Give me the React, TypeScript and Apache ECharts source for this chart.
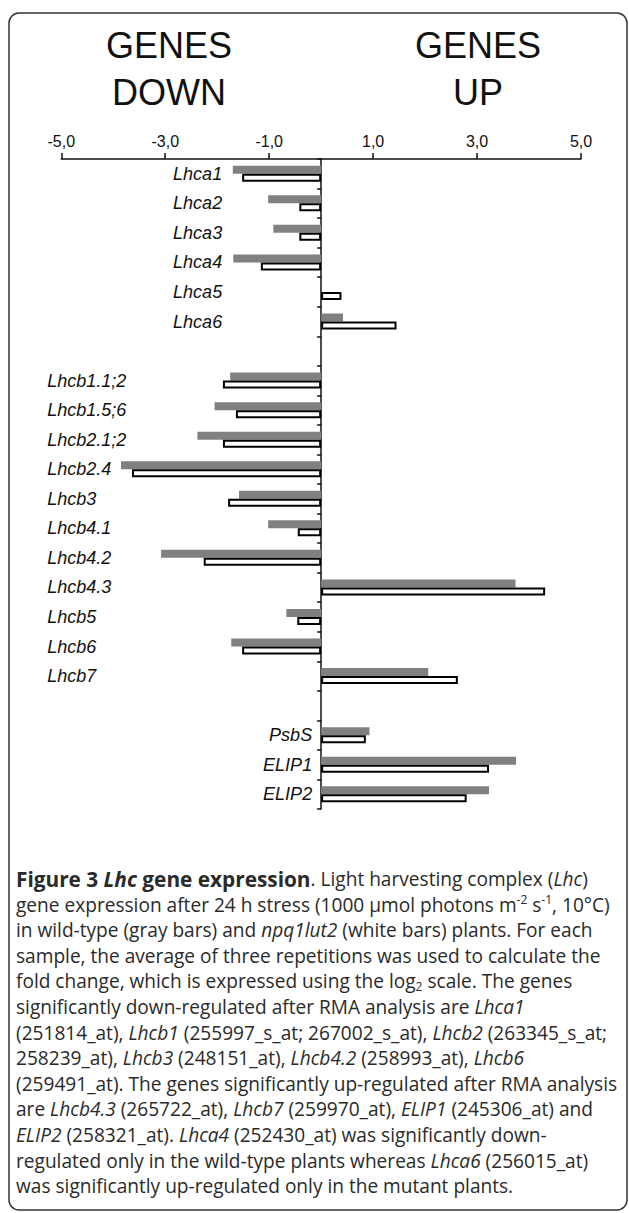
import React, { useEffect, useRef } from "react";
import * as echarts from "echarts";

const categories = [
  "Lhca1", "Lhca2", "Lhca3", "Lhca4", "Lhca5", "Lhca6", " ",
  "Lhcb1.1;2", "Lhcb1.5;6", "Lhcb2.1;2", "Lhcb2.4", "Lhcb3", "Lhcb4.1", "Lhcb4.2",
  "Lhcb4.3", "Lhcb5", "Lhcb6", "Lhcb7", "  ", "PsbS", "ELIP1", "ELIP2",
];
const wildType = [
  -1.7, -1.02, -0.92, -1.69, 0, 0.42, null,
  -1.75, -2.05, -2.38, -3.85, -1.58, -1.02, -3.08, 3.74, -0.67, -1.73, 2.06, null,
  0.93, 3.75, 3.23,
];
const mutant = [
  -1.52, -0.42, -0.42, -1.16, 0.39, 1.45, null,
  -1.89, -1.64, -1.89, -3.64, -1.79, -0.45, -2.26, 4.31, -0.46, -1.52, 2.63, null,
  0.86, 3.23, 2.8,
];
const xMin = -5;
const xMax = 5;
const xStep = 2;
const headers = ["GENES\nDOWN", "GENES\nUP"];
const captionLines = [
  "{b|Figure 3 }{bi|Lhc}{b| gene expression}{n|. Light harvesting complex (}{i|Lhc}{n|)}",
  "{n|gene expression after 24 h stress (1000 µmol photons m}{sup|-2}{n| s}{sup|-1}{n|, 10°C)}",
  "{n|in wild-type (gray bars) and }{i|npq1lut2}{n| (white bars) plants. For each}",
  "{n|sample, the average of three repetitions was used to calculate the}",
  "{n|fold change, which is expressed using the log}{sub|2}{n| scale. The genes}",
  "{n|significantly down-regulated after RMA analysis are }{i|Lhca1}",
  "{n|(251814_at), }{i|Lhcb1}{n| (255997_s_at; 267002_s_at), }{i|Lhcb2}{n| (263345_s_at;}",
  "{n|258239_at), }{i|Lhcb3}{n| (248151_at), }{i|Lhcb4.2}{n| (258993_at), }{i|Lhcb6}",
  "{n|(259491_at). The genes significantly up-regulated after RMA analysis}",
  "{n|are }{i|Lhcb4.3}{n| (265722_at), }{i|Lhcb7}{n| (259970_at), }{i|ELIP1}{n| (245306_at) and}",
  "{i|ELIP2}{n| (258321_at). }{i|Lhca4}{n| (252430_at) was significantly down-}",
  "{n|regulated only in the wild-type plants whereas }{i|Lhca6}{n| (256015_at)}",
  "{n|was significantly up-regulated only in the mutant plants.}",
];

const W = 629;
const H = 1213;
const AX = "Liberation Sans, Arial, sans-serif";
const CAP = "Open Sans, Noto Sans, sans-serif";
const GRID_LEFT = 61.3;
const GRID_RIGHT_X = 581;

export default function App() {
  const ref = useRef<HTMLDivElement>(null);
  useEffect(() => {
    if (!ref.current) return;
    const chart = echarts.init(ref.current, undefined, { renderer: "svg" });
    const capBase = { fontFamily: CAP, fontSize: 19.1, fill: "#2a2a2a", lineHeight: 24 };
    const rich = {
      n: { ...capBase },
      i: { ...capBase, fontStyle: "italic" },
      b: { ...capBase, fontWeight: "bold", fontSize: 20.8 },
      bi: { ...capBase, fontWeight: "bold", fontStyle: "italic", fontSize: 20.8 },
      sup: { ...capBase, fontSize: 12, lineHeight: 12, padding: [0, 0, 10, 0] },
      sub: { ...capBase, fontSize: 12, lineHeight: 12, padding: [10, 0, 0, 0] },
    };
    const graphics: any[] = [
      {
        type: "rect",
        shape: { x: 9, y: 13, width: 618, height: 1197, r: 10 },
        style: { fill: "none", stroke: "#333", lineWidth: 1.5 },
        silent: true,
      },
      {
        type: "text",
        x: 169,
        y: 69,
        style: {
          text: headers[0], fontFamily: AX, fontSize: 36, lineHeight: 47,
          fill: "#111", align: "center", verticalAlign: "middle",
        },
      },
      {
        type: "text",
        x: 478,
        y: 69,
        style: {
          text: headers[1], fontFamily: AX, fontSize: 36, lineHeight: 47,
          fill: "#111", align: "center", verticalAlign: "middle",
        },
      },
    ];
    captionLines.forEach((line, k) => {
      graphics.push({
        type: "text",
        x: 16,
        y: 879 + k * 25.6,
        style: { text: line, rich, align: "left", verticalAlign: "middle", ...capBase },
      });
    });

    // put the category axis on the zero line of the value axis
    const gridWidth = GRID_RIGHT_X - GRID_LEFT;
    const zeroOffset = ((0 - xMin) / (xMax - xMin)) * gridWidth;

    chart.setOption({
      animation: false,
      backgroundColor: "#fff",
      grid: {
        left: GRID_LEFT, right: W - GRID_RIGHT_X, top: 159, height: 650,
        containLabel: false, outerBoundsMode: "none",
      },
      xAxis: {
        type: "value",
        position: "top",
        min: xMin,
        max: xMax,
        interval: xStep,
        axisLine: { show: true, lineStyle: { color: "#111", width: 1.5 } },
        axisTick: { show: true, length: 6, lineStyle: { color: "#111", width: 1.5 } },
        splitLine: { show: false },
        axisLabel: {
          margin: 10,
          fontFamily: AX,
          fontSize: 16,
          color: "#111",
          formatter: (v: number) => v.toFixed(1).replace(".", ","),
        },
      },
      yAxis: {
        type: "category",
        inverse: true,
        data: categories,
        position: "left",
        offset: -zeroOffset,
        axisLine: { show: true, onZero: false, lineStyle: { color: "#111", width: 1.5 } },
        axisTick: { show: true, length: 4, lineStyle: { color: "#111", width: 1.5 } },
        axisLabel: {
          margin: 9,
          fontFamily: AX,
          fontSize: 18,
          fontStyle: "italic",
          color: "#111",
          formatter: (v: string, idx: number) => {
            if (!v.trim()) return "";
            if (idx < 6) return `{a|${v}}`;
            if (idx >= 19) return `{c|${v}}`;
            return `{b|${v}}`;
          },
          rich: {
            a: { fontFamily: AX, fontSize: 18, fontStyle: "italic", color: "#111", padding: [0, 90, 0, 0] },
            b: { fontFamily: AX, fontSize: 18, fontStyle: "italic", color: "#111", width: 265, align: "left" },
            c: { fontFamily: AX, fontSize: 18, fontStyle: "italic", color: "#111" },
          },
        },
      },
      series: [
        {
          name: "wild-type",
          type: "bar",
          data: wildType,
          barWidth: 8,
          barGap: "0%",
          itemStyle: { color: "#808080" },
        },
        {
          name: "npq1lut2",
          type: "bar",
          data: mutant,
          barWidth: 8,
          barGap: "0%",
          itemStyle: { color: "#fff", borderColor: "#000", borderWidth: 2 },
        },
      ],
      graphic: graphics,
    });
    return () => chart.dispose();
  }, []);
  return (
    <div
      ref={ref}
      style={{ position: "fixed", left: 0, top: 0, width: W, height: H, background: "#fff" }}
    />
  );
}
